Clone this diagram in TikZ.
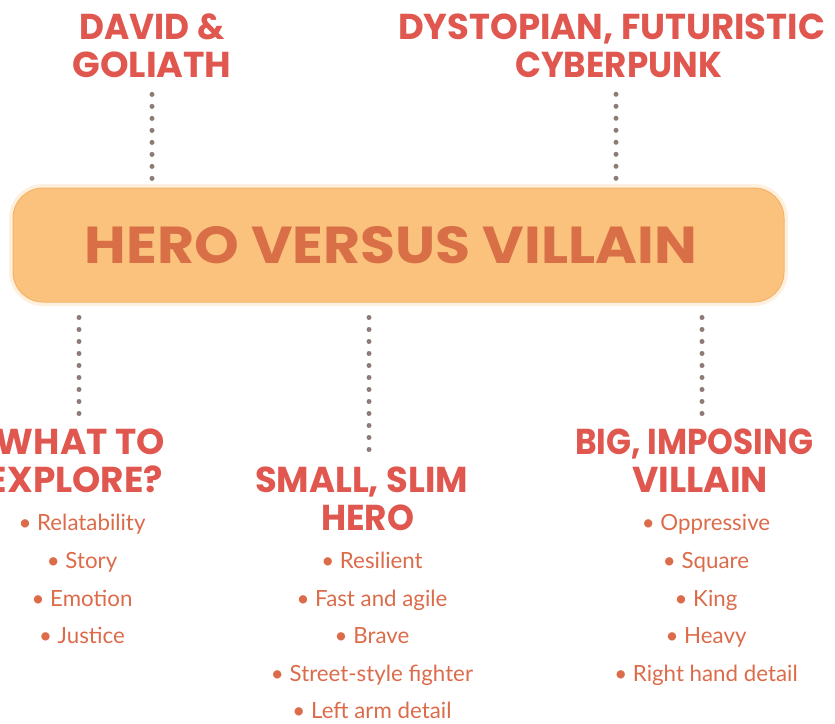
\documentclass[tikz,border=0pt]{standalone}
\usepackage{fontspec}
\usepackage{graphicx}
\usetikzlibrary{calc}
\newfontfamily\headfont{Poppins}
\newfontfamily\bodyfont{Lato}
\definecolor{headred}{HTML}{E0574F}
\definecolor{titletext}{HTML}{D86F47}
\definecolor{bodytext}{HTML}{DC6B4A}
\definecolor{barfill}{HTML}{FBC27D}
\definecolor{bardraw}{HTML}{F3B46C}
\definecolor{dotcol}{HTML}{8E7A76}
\newcommand\fitline[2]{\resizebox{#1pt}{\height}{#2}}
\tikzset{
  heading/.style={inner sep=0pt, align=center, anchor=north, text=headred,
    font=\headfont\bfseries\fontsize{36}{38}\selectfont},
  item/.style={inner sep=0pt, anchor=base, text=bodytext,
    font=\bodyfont\fontsize{22.3}{26}\selectfont},
  titlebar/.style={draw=bardraw, line width=1pt, fill=barfill, rounded corners=30pt,
    minimum width=771pt, minimum height=114pt, inner sep=0pt, text=titletext,
    font=\headfont\bfseries\fontsize{52}{56}\selectfont},
  dotline/.style={draw=dotcol, line width=5pt, line cap=round, dash pattern=on 0pt off 12pt}
}
\begin{document}
\begin{tikzpicture}[x=1pt,y=-1pt]
\useasboundingbox (0,0) rectangle (835,723);
% soft halo of the bar
\fill[barfill!25, rounded corners=34pt] (9,184) rectangle (788,306);
\node[titlebar] (bar) at (398.5,245) {\fitline{612}{HERO VERSUS VILLAIN}\hspace*{15pt}};

\node[heading] (dav) at (152,14) {\fitline{145}{DAVID \&}\\\fitline{159}{GOLIATH}};
\node[heading] (dys) at (615,14) {\fitline{427}{DYSTOPIAN, FUTURISTIC}\hspace*{7pt}\\\hspace*{7pt}\fitline{207}{CYBERPUNK}};
\node[heading] (what) at (79,429) {\hspace*{3pt}\fitline{169}{WHAT TO}\\\fitline{175}{EXPLORE?}\hspace*{7pt}};
\node[heading] (small) at (364,467) {\fitline{213}{SMALL, SLIM}\hspace*{5pt}\\\hspace*{7pt}\fitline{93}{HERO}};
\node[heading] (big) at (697,429) {\fitline{238}{BIG, IMPOSING}\hspace*{6pt}\\\hspace*{6pt}\fitline{136}{VILLAIN}};

\draw[dotline] ($(dav.south)+(0,16)$) -- ($(bar.north -| dav.south)+(0,-6.5)$);
\draw[dotline] ($(dys.south)+(1,16)$) -- ($(bar.north -| dys.south)+(1,-6.5)$);
\draw[dotline] ($(bar.south -| what.north)+(0,15)$) -- ($(what.north)+(0,-11)$);
\draw[dotline] ($(bar.south -| small.north)+(5,15)$) -- ($(small.north)+(5,-13)$);
\draw[dotline] ($(bar.south -| big.north)+(5,15)$) -- ($(big.north)+(5,-11)$);

\node[item] (w1) at (82,530) {• Relatability};
\node[item] (w2) at (82,568) {• Story};
\node[item] (w3) at (82,606) {• Emotion};
\node[item] (w4) at (82,643) {• Justice};

\node[item] (s1) at (372,568) {• Resilient};
\node[item] (s2) at (372,606) {• Fast and agile};
\node[item] (s3) at (372,643) {• Brave};
\node[item] (s4) at (372,681) {• Street-style fighter};
\node[item] (s5) at (372,718) {• Left arm detail};

\node[item] (b1) at (706,530) {• Oppressive};
\node[item] (b2) at (706,568) {• Square};
\node[item] (b3) at (706,606) {• King};
\node[item] (b4) at (706,643) {• Heavy};
\node[item] (b5) at (706,681) {• Right hand detail};
\end{tikzpicture}
\end{document}
